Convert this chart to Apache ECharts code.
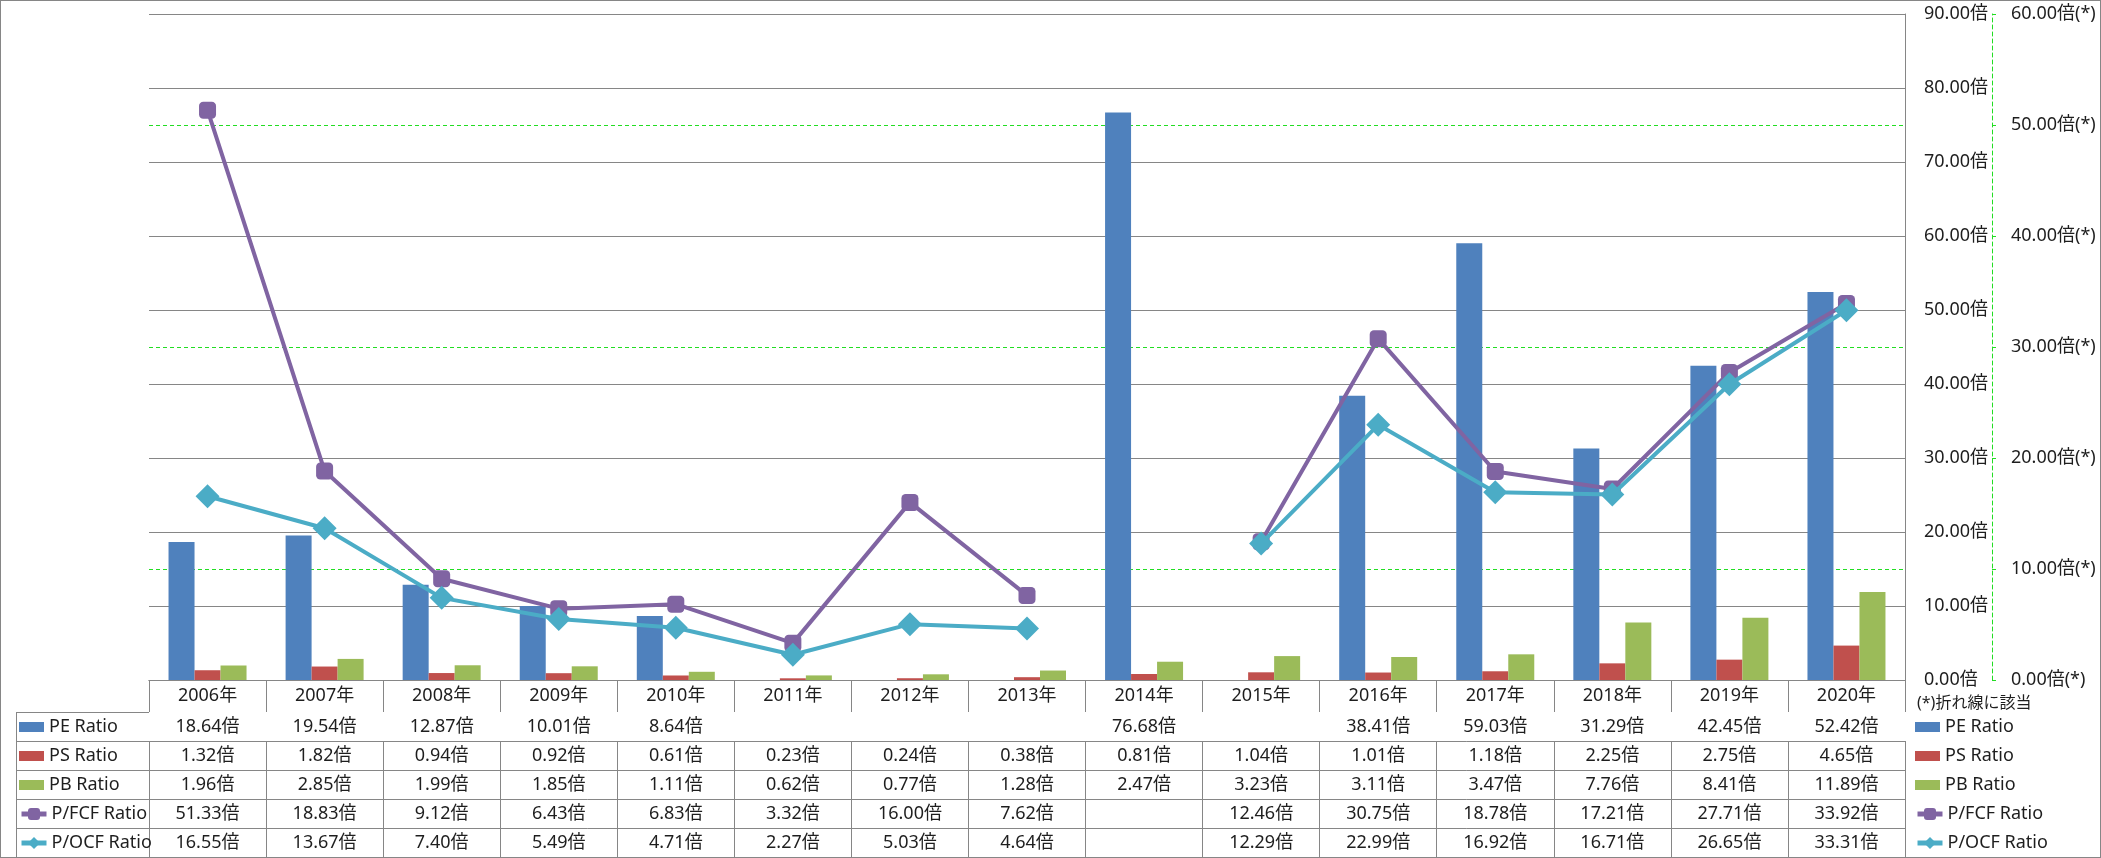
<!DOCTYPE html>
<html><head><meta charset="utf-8">
<script src="https://cdn.jsdelivr.net/npm/echarts@6/dist/echarts.min.js"></script>
<style>
html,body{margin:0;padding:0;background:#fff;}
#wrap{position:relative;width:2101px;height:858px;}
#c{position:absolute;left:0;top:0;width:2101px;height:858px;}
#border{position:absolute;left:0;top:0;width:2099px;height:856px;border:1px solid #868686;pointer-events:none;}
</style></head>
<body>
<div id="wrap"><div id="c"></div><div id="border"></div></div>
<script>
const YEARS = ['2006年','2007年','2008年','2009年','2010年','2011年','2012年','2013年','2014年','2015年','2016年','2017年','2018年','2019年','2020年'];
const PE   = [18.64,19.54,12.87,10.01,8.64,null,null,null,76.68,null,38.41,59.03,31.29,42.45,52.42];
const PS   = [1.32,1.82,0.94,0.92,0.61,0.23,0.24,0.38,0.81,1.04,1.01,1.18,2.25,2.75,4.65];
const PB   = [1.96,2.85,1.99,1.85,1.11,0.62,0.77,1.28,2.47,3.23,3.11,3.47,7.76,8.41,11.89];
const PFCF = [51.33,18.83,9.12,6.43,6.83,3.32,16.00,7.62,null,12.46,30.75,18.78,17.21,27.71,33.92];
const POCF = [16.55,13.67,7.40,5.49,4.71,2.27,5.03,4.64,null,12.29,22.99,16.92,16.71,26.65,33.31];
const SERIES_NAMES = ['PE Ratio','PS Ratio','PB Ratio','P/FCF Ratio','P/OCF Ratio'];
const LEFT_AXIS = {min:0, max:90, interval:10};
const RIGHT_AXIS = {min:0, max:60, interval:10};
const RIGHT_GRID_VALUES = [10,30,50];
const NOTE = '(*)折れ線に該当';

const FONT = "'Noto Sans','Noto Sans CJK JP',sans-serif";
const GRAY = '#868686';
const TXT = '#1e1e1e';
const COLORS = ['#4F81BD','#C0504D','#9BBB59','#8064A2','#4BACC6'];
const GREEN = '#22dd22';
const FS = 18;

const GL = 149, GR = 1905, GT = 14, GB = 680;
const HEADER_H = 32, ROW_H = 29;
const TABLE_L = 16;
const W = 2101, H = 858;

const fmt = v => (v === null || v === undefined) ? '' : v.toFixed(2) + '倍';
const rows = [PE, PS, PB, PFCF, POCF];

const xAxes = [{
  type:'category', data:YEARS, gridIndex:0, position:'bottom', offset:0,
  axisLine:{show:true, lineStyle:{color:GRAY, width:1}},
  axisTick:{show:true, length:HEADER_H, lineStyle:{color:GRAY, width:1}},
  axisLabel:{interval:0, margin:HEADER_H/2, color:TXT, fontFamily:FONT, fontSize:FS, verticalAlign:'middle'},
  splitLine:{show:false}
}];
rows.forEach((arr, r) => {
  xAxes.push({
    type:'category', data:YEARS, gridIndex:0, position:'bottom', offset:HEADER_H + r*ROW_H,
    axisLine:{show:true, lineStyle:{color:GRAY, width:1}},
    axisTick:{show:true, length:ROW_H, lineStyle:{color:GRAY, width:1}},
    axisLabel:{interval:0, margin:ROW_H/2, color:TXT, fontFamily:FONT, fontSize:FS, verticalAlign:'middle',
      formatter:(v, i) => fmt(arr[i])},
    splitLine:{show:false}
  });
});

const graphics = [];
for (let k = 0; k < 5; k++) {
  const y = GB + HEADER_H + k*ROW_H;
  graphics.push({type:'line', shape:{x1:TABLE_L, y1:y+0.5, x2:GL, y2:y+0.5}, style:{stroke:GRAY, lineWidth:1}, silent:true});
}
graphics.push({type:'line', shape:{x1:TABLE_L+0.5, y1:GB+HEADER_H, x2:TABLE_L+0.5, y2:H}, style:{stroke:GRAY, lineWidth:1}, silent:true});

const legends = [];
[19, 1915].forEach(lx => {
  SERIES_NAMES.forEach((n, i) => {
    const isBar = i < 3;
    const ih = isBar ? 10 : 15;
    const cy = GB + HEADER_H + i*ROW_H + ROW_H/2;
    legends.push({
      left: lx, top: Math.round(cy - 11), padding:0, orient:'horizontal',
      itemWidth:25, itemHeight:ih, itemGap:0, selectedMode:false,
      lineStyle:{width:5},
      textStyle:{color:TXT, fontFamily:FONT, fontSize:FS, lineHeight:22, padding:[0,0,0,0]},
      data:[isBar ? {name:n, icon:'rect'} : {name:n}]
    });
  });
});

const chart = echarts.init(document.getElementById('c'), null, {renderer:'canvas'});
chart.setOption({
  animation:false,
  backgroundColor:'#fff',
  title:{text:NOTE, left:1917, top:692, padding:0, textStyle:{color:TXT, fontFamily:FONT, fontSize:16, fontWeight:'normal', lineHeight:22}},
  legend:legends,
  grid:{left:GL, right:W-GR, top:GT, bottom:H-GB, containLabel:false},
  xAxis:xAxes,
  yAxis:[
    {type:'value', position:'right', min:LEFT_AXIS.min, max:LEFT_AXIS.max, interval:LEFT_AXIS.interval,
     axisLine:{show:true, lineStyle:{color:GRAY, width:1}},
     axisTick:{show:false},
     axisLabel:{margin:19, color:TXT, fontFamily:FONT, fontSize:FS, align:'left', formatter:v => v.toFixed(2)+'倍'},
     splitLine:{show:true, lineStyle:{color:GRAY, width:1}}},
    {type:'value', position:'right', offset:87, min:RIGHT_AXIS.min, max:RIGHT_AXIS.max, interval:RIGHT_AXIS.interval,
     axisLine:{show:true, lineStyle:{color:GREEN, width:1, type:[4,3]}},
     axisTick:{show:true, length:4, lineStyle:{color:GREEN, width:1}},
     axisLabel:{margin:19, color:TXT, fontFamily:FONT, fontSize:FS, align:'left', formatter:v => v.toFixed(2)+'倍(*)'},
     splitLine:{show:false}}
  ],
  graphic:graphics,
  series:[
    {name:SERIES_NAMES[0], type:'bar', data:PE, xAxisIndex:0, yAxisIndex:0, barWidth:26, barGap:'0%', itemStyle:{color:COLORS[0]}, z:2},
    {name:SERIES_NAMES[1], type:'bar', data:PS, xAxisIndex:0, yAxisIndex:0, barWidth:26, barGap:'0%', itemStyle:{color:COLORS[1]}, z:2},
    {name:SERIES_NAMES[2], type:'bar', data:PB, xAxisIndex:0, yAxisIndex:0, barWidth:26, barGap:'0%', itemStyle:{color:COLORS[2]}, z:2},
    {name:SERIES_NAMES[3], type:'line', data:PFCF, xAxisIndex:0, yAxisIndex:1, connectNulls:false,
     symbol:'roundRect', symbolSize:17, showAllSymbol:true,
     lineStyle:{color:COLORS[3], width:4}, itemStyle:{color:COLORS[3]}, z:4,
     markLine:{silent:true, symbol:['none','none'], label:{show:false},
       lineStyle:{color:GREEN, width:1, type:[4,3]},
       data:RIGHT_GRID_VALUES.map(v => ({yAxis:v})), z:1}},
    {name:SERIES_NAMES[4], type:'line', data:POCF, xAxisIndex:0, yAxisIndex:1, connectNulls:false,
     symbol:'diamond', symbolSize:24, showAllSymbol:true,
     lineStyle:{color:COLORS[4], width:4}, itemStyle:{color:COLORS[4]}, z:5}
  ]
});
</script>
</body></html>
